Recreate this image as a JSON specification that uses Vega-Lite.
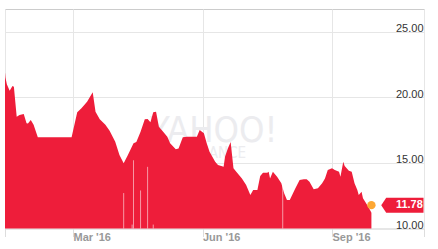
{
  "$schema": "https://vega.github.io/schema/vega-lite/v6.json",
  "width": 419,
  "height": 219.5,
  "autosize": {"type": "none"},
  "padding": {"left": 5, "top": 9, "right": 14, "bottom": 20},
  "background": "#ffffff",
  "config": {"view": {"stroke": "#cccccc", "strokeWidth": 1}},
  "datasets": {
    "prices": [
      {"date": "2016/01/12 16:30", "price": 21.9},
      {"date": "2016/01/13", "price": 21.5},
      {"date": "2016/01/14", "price": 21.0},
      {"date": "2016/01/16", "price": 20.5},
      {"date": "2016/01/18", "price": 20.86},
      {"date": "2016/01/19", "price": 20.8},
      {"date": "2016/01/21", "price": 18.52},
      {"date": "2016/01/23", "price": 18.65},
      {"date": "2016/01/26", "price": 18.73},
      {"date": "2016/01/28", "price": 18.02},
      {"date": "2016/01/29", "price": 18.0},
      {"date": "2016/01/31", "price": 18.27},
      {"date": "2016/02/02", "price": 17.9},
      {"date": "2016/02/05", "price": 16.95},
      {"date": "2016/02/29", "price": 16.95},
      {"date": "2016/03/02", "price": 17.9},
      {"date": "2016/03/04", "price": 18.86},
      {"date": "2016/03/07", "price": 19.16},
      {"date": "2016/03/11", "price": 19.66},
      {"date": "2016/03/15", "price": 20.38},
      {"date": "2016/03/17", "price": 18.9},
      {"date": "2016/03/20", "price": 18.32},
      {"date": "2016/03/24", "price": 17.9},
      {"date": "2016/03/27", "price": 17.45},
      {"date": "2016/03/31", "price": 16.62},
      {"date": "2016/04/03", "price": 15.6},
      {"date": "2016/04/06", "price": 14.97},
      {"date": "2016/04/09", "price": 15.6},
      {"date": "2016/04/13", "price": 16.5},
      {"date": "2016/04/15", "price": 16.6},
      {"date": "2016/04/18", "price": 17.38},
      {"date": "2016/04/21", "price": 18.32},
      {"date": "2016/04/23", "price": 18.35},
      {"date": "2016/04/25", "price": 18.1},
      {"date": "2016/04/27", "price": 18.86},
      {"date": "2016/04/29", "price": 18.9},
      {"date": "2016/05/01", "price": 17.76},
      {"date": "2016/05/03", "price": 17.5},
      {"date": "2016/05/07", "price": 17.0},
      {"date": "2016/05/09", "price": 16.5},
      {"date": "2016/05/13", "price": 16.04},
      {"date": "2016/05/15", "price": 16.1},
      {"date": "2016/05/18", "price": 16.95},
      {"date": "2016/05/21", "price": 17.0},
      {"date": "2016/05/28", "price": 17.0},
      {"date": "2016/05/30", "price": 17.5},
      {"date": "2016/06/02", "price": 17.26},
      {"date": "2016/06/04", "price": 16.5},
      {"date": "2016/06/06", "price": 15.85},
      {"date": "2016/06/10", "price": 15.09},
      {"date": "2016/06/12", "price": 14.84},
      {"date": "2016/06/16", "price": 14.71},
      {"date": "2016/06/17", "price": 15.47},
      {"date": "2016/06/19", "price": 16.1},
      {"date": "2016/06/21", "price": 16.6},
      {"date": "2016/06/23", "price": 14.59},
      {"date": "2016/06/25", "price": 14.33},
      {"date": "2016/06/29", "price": 13.82},
      {"date": "2016/07/02", "price": 13.32},
      {"date": "2016/07/05", "price": 12.55},
      {"date": "2016/07/07", "price": 12.93},
      {"date": "2016/07/10", "price": 12.93},
      {"date": "2016/07/12", "price": 14.0},
      {"date": "2016/07/14", "price": 14.25},
      {"date": "2016/07/17", "price": 14.25},
      {"date": "2016/07/18", "price": 14.33},
      {"date": "2016/07/19", "price": 13.82},
      {"date": "2016/07/21", "price": 14.33},
      {"date": "2016/07/24", "price": 13.95},
      {"date": "2016/07/27", "price": 13.44},
      {"date": "2016/07/28", "price": 13.06},
      {"date": "2016/07/29", "price": 12.68},
      {"date": "2016/07/31", "price": 12.17},
      {"date": "2016/08/02", "price": 12.17},
      {"date": "2016/08/06", "price": 13.06},
      {"date": "2016/08/09", "price": 13.7},
      {"date": "2016/08/12", "price": 13.75},
      {"date": "2016/08/14", "price": 13.75},
      {"date": "2016/08/16", "price": 13.57},
      {"date": "2016/08/19", "price": 12.99},
      {"date": "2016/08/22", "price": 13.06},
      {"date": "2016/08/25", "price": 13.44},
      {"date": "2016/08/27", "price": 13.82},
      {"date": "2016/08/29", "price": 14.46},
      {"date": "2016/09/01", "price": 14.59},
      {"date": "2016/09/03", "price": 14.46},
      {"date": "2016/09/06", "price": 14.33},
      {"date": "2016/09/07", "price": 13.95},
      {"date": "2016/09/09", "price": 15.09},
      {"date": "2016/09/10", "price": 14.76},
      {"date": "2016/09/13", "price": 14.41},
      {"date": "2016/09/15", "price": 14.33},
      {"date": "2016/09/17", "price": 13.44},
      {"date": "2016/09/19", "price": 12.93},
      {"date": "2016/09/20", "price": 12.55},
      {"date": "2016/09/22", "price": 12.8},
      {"date": "2016/09/23", "price": 12.3},
      {"date": "2016/09/26", "price": 11.79},
      {"date": "2016/09/28", "price": 11.41},
      {"date": "2016/09/29", "price": 11.2}
    ],
    "gaps": [
      {"date": "2016/04/06", "price": 12.7},
      {"date": "2016/04/12", "price": 10.3},
      {"date": "2016/04/13", "price": 15.2},
      {"date": "2016/04/18", "price": 12.9},
      {"date": "2016/04/23", "price": 14.7},
      {"date": "2016/04/27", "price": 10.3},
      {"date": "2016/07/28", "price": 13.9}
    ],
    "last": [
      {"date": "2016/09/29", "price": 11.78}
    ],
    "badge": [
      {"date": "2016/10/21", "price": 11.78, "label": "11.78"}
    ],
    "watermark": [
      {"date": "2016/06/09", "price": 16.59, "label": "YAHOO!", "fs": 36},
      {"date": "2016/06/11", "price": 15.37, "label": "FINANCE", "fs": 15}
    ]
  },
  "encoding": {
    "x": {
      "field": "date",
      "type": "temporal",
      "scale": {
        "domain": [
          {"year": 2016, "month": 1, "date": 12, "hours": 16, "minutes": 30},
          {"year": 2016, "month": 11, "date": 5, "hours": 8, "minutes": 40}
        ]
      },
      "axis": {
        "values": [
          {"year": 2016, "month": 1, "date": 12, "hours": 16, "minutes": 30},
          {"year": 2016, "month": 3, "date": 1},
          {"year": 2016, "month": 6, "date": 1},
          {"year": 2016, "month": 9, "date": 1},
          {"year": 2016, "month": 11, "date": 5, "hours": 8, "minutes": 40}
        ],
        "labelExpr": "(month(datum.value)==2||month(datum.value)==5||month(datum.value)==8) ? timeFormat(datum.value, \"%b '%y\") : ''",
        "title": null,
        "domain": false,
        "grid": true,
        "gridColor": "#e6e6e6",
        "tickColor": "#dddddd",
        "tickSize": 8,
        "labelAlign": "left",
        "labelDx": 4,
        "labelBaseline": "top",
        "labelPadding": -5,
        "labelColor": "#999999",
        "labelFont": "Liberation Sans",
        "labelFontSize": 11,
        "labelFontWeight": "bold",
        "labelFlush": false,
        "labelOverlap": false
      }
    },
    "y": {
      "field": "price",
      "type": "quantitative",
      "scale": {"domain": [10, 26.73], "nice": false, "zero": false},
      "axis": {
        "orient": "right",
        "values": [10, 15, 20, 25],
        "format": ".2f",
        "title": null,
        "domain": false,
        "ticks": false,
        "tickSize": 0,
        "grid": true,
        "gridColor": "#e6e6e6",
        "labelAlign": "right",
        "labelPadding": -1,
        "labelBaseline": "alphabetic",
        "labelDy": -3,
        "labelColor": "#333333",
        "labelFont": "Liberation Sans",
        "labelFontSize": 11,
        "labelFlush": false,
        "labelOverlap": false
      }
    }
  },
  "layer": [
    {
      "data": {"name": "watermark"},
      "mark": {"type": "text", "font": "Liberation Sans Narrow, DejaVu Sans Condensed, sans-serif", "color": "#ececef", "align": "center", "baseline": "alphabetic"},
      "encoding": {
        "text": {"field": "label"},
        "size": {"field": "fs", "type": "quantitative", "scale": null}
      }
    },
    {
      "data": {"name": "prices"},
      "mark": {"type": "area", "color": "#ee1d3a", "interpolate": "linear"},
      "encoding": {
        "y2": {"datum": 10}
      }
    },
    {
      "data": {"name": "gaps"},
      "mark": {"type": "rule", "color": "#ffffff", "opacity": 0.55, "strokeWidth": 1},
      "encoding": {
        "y2": {"datum": 10}
      }
    },
    {
      "data": {"name": "last"},
      "mark": {"type": "point", "filled": true, "shape": "circle", "size": 70, "color": "#fda733", "opacity": 1}
    },
    {
      "data": {"name": "badge"},
      "mark": {"type": "point", "filled": true, "shape": "M-1,0L-0.764,-0.355L1,-0.355L1,0.355L-0.764,0.355Z", "size": 1789, "color": "#ee1d3a", "opacity": 1}
    },
    {
      "data": {"name": "badge"},
      "mark": {"type": "text", "color": "#ffffff", "font": "Liberation Sans", "fontSize": 11, "fontWeight": "bold", "align": "center", "baseline": "middle", "dx": 7},
      "encoding": {
        "text": {"field": "label"}
      }
    }
  ]
}
